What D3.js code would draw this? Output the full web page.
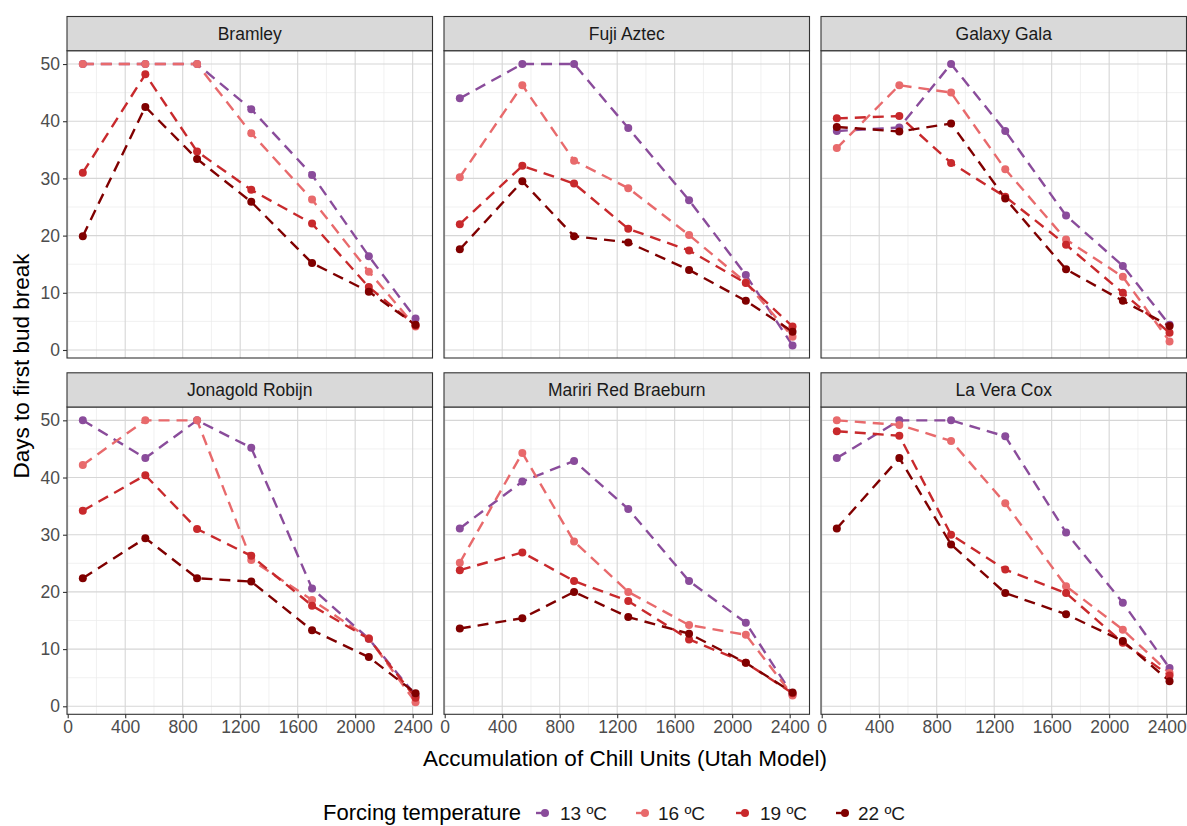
<!DOCTYPE html>
<html><head><meta charset="utf-8">
<script src="https://cdn.jsdelivr.net/npm/d3@7"></script>
<style>body{margin:0;background:#fff;font-family:"Liberation Sans",Arial,sans-serif}</style>
</head><body><svg id="c" width="1187" height="826"></svg>
<script>
const chill = [105, 540, 900, 1277, 1700, 2095, 2420];
const cultivars = ["Bramley","Fuji Aztec","Galaxy Gala","Jonagold Robijn","Mariri Red Braeburn","La Vera Cox"];
const temps = ["13 ºC","16 ºC","19 ºC","22 ºC"];
const colors = ["#8a4c9b","#e86a6c","#c8292c","#800000"];
const xTicks = [0,400,800,1200,1600,2000,2400];
const yTicks = [0,10,20,30,40,50];
// days to first bud break, per cultivar: [13, 16, 19, 22] series
const bramley = [[50,50,50,42.1,30.6,16.4,5.5],[50,50,50,37.9,26.3,13.7,4.1],[31,48.2,34.7,28,22.1,11,4.3],[19.9,42.5,33.4,25.9,15.2,10.2,4.4]];
const fuji = [[44,50,50,38.8,26.2,13.1,0.8],[30.2,46.3,33.1,28.3,20.1,11.8,2.3],[22,32.2,29.1,21.2,17.4,11.7,4.1],[17.6,29.5,19.9,18.8,14,8.6,3.2]];
const gala = [[38.3,38.9,50,38.3,23.5,14.7,4.4],[35.3,46.3,45,31.6,19.3,12.8,1.5],[40.5,40.9,32.7,26.8,18.4,10,3],[39,38.2,39.6,26.5,14.1,8.6,4.2]];
const jonagold = [[50,43.4,50,45.2,20.6,11.8,1.9],[42.2,50,50,25.6,18.6,11.9,0.7],[34.2,40.4,31,26.3,17.6,11.8,1.5],[22.4,29.4,22.4,21.8,13.3,8.6,2.3]];
const mariri = [[31.1,39.3,42.9,34.5,21.9,14.6,2],[25.1,44.3,28.8,20,14.2,12.5,1.9],[23.8,26.9,21.9,18.4,11.7,7.6,2.3],[13.6,15.4,20,15.6,12.7,7.6,2.4]];
const laVera = [[43.4,50,50,47.2,30.4,18.1,6.7],[50,49.2,46.4,35.5,21,13.4,5.8],[48.1,47.3,30,23.9,19.8,11.1,5.4],[31.1,43.4,28.3,19.8,16.1,11.4,4.4]];
const panelData = [bramley, fuji, gala, jonagold, mariri, laVera];

const svg = d3.select("#c");
const colLeft = [67, 444, 821], pw = 365.5;
const rowTop = [16.5, 372.8], stripH = 34.2, ph = 307.3;
const x = d3.scaleLinear().domain([-5, 2538]).range([0, pw]);
const y = d3.scaleLinear().domain([-1.4, 52.33]).range([ph, 0]);
const line = d3.line().x((d,i)=>x(chill[i])).y(d=>y(d));

panelData.forEach((pd, k) => {
  const c = k % 3, r = Math.floor(k / 3);
  const g = svg.append("g").attr("transform", `translate(${colLeft[c]},${rowTop[r]+stripH})`);
  svg.append("rect").attr("x", colLeft[c]).attr("y", rowTop[r]).attr("width", pw).attr("height", stripH)
    .attr("fill", "#d9d9d9").attr("stroke", "#333").attr("stroke-width", 1.1);
  svg.append("text").attr("x", colLeft[c] + pw/2).attr("y", rowTop[r] + stripH/2 + 6)
    .attr("text-anchor", "middle").attr("font-size", 17.5).attr("fill", "#1a1a1a").text(cultivars[k]);
  g.append("rect").attr("width", pw).attr("height", ph).attr("fill", "#fff");
  const xMinor = [200,600,1000,1400,1800,2200];
  const yMinor = [5,15,25,35,45];
  g.selectAll(".xm").data(xMinor).join("line").attr("x1", d=>x(d)).attr("x2", d=>x(d)).attr("y1", 0).attr("y2", ph)
    .attr("stroke", "#ebebeb").attr("stroke-width", 0.7);
  g.selectAll(".ym").data(yMinor).join("line").attr("y1", d=>y(d)).attr("y2", d=>y(d)).attr("x1", 0).attr("x2", pw)
    .attr("stroke", "#ebebeb").attr("stroke-width", 0.7);
  g.selectAll(".xM").data(xTicks).join("line").attr("x1", d=>x(d)).attr("x2", d=>x(d)).attr("y1", 0).attr("y2", ph)
    .attr("stroke", "#d6d6d6").attr("stroke-width", 1.1);
  g.selectAll(".yM").data(yTicks).join("line").attr("y1", d=>y(d)).attr("y2", d=>y(d)).attr("x1", 0).attr("x2", pw)
    .attr("stroke", "#d6d6d6").attr("stroke-width", 1.1);
  pd.forEach((s, j) => {
    g.append("path").attr("d", line(s)).attr("fill", "none").attr("stroke", colors[j])
      .attr("stroke-width", 2.4).attr("stroke-dasharray", "11,7");
  });
  pd.forEach((s, j) => {
    g.selectAll(null).data(s).join("circle").attr("cx", (d,i)=>x(chill[i])).attr("cy", d=>y(d))
      .attr("r", 4).attr("fill", colors[j]);
  });
  g.append("rect").attr("width", pw).attr("height", ph).attr("fill", "none").attr("stroke", "#333").attr("stroke-width", 1.1);
  if (c === 0) {
    const ya = g.append("g").call(d3.axisLeft(y).tickValues(yTicks).tickSize(4).tickPadding(3));
    ya.select(".domain").remove();
    ya.selectAll("line").attr("stroke", "#333").attr("stroke-width", 1.1);
    ya.selectAll("text").attr("font-size", 17.5).attr("fill", "#4d4d4d").attr("font-family", "Liberation Sans, Arial, sans-serif");
  }
  if (r === 1) {
    const xa = g.append("g").attr("transform", `translate(0,${ph})`)
      .call(d3.axisBottom(x).tickValues(xTicks).tickFormat(d3.format("d")).tickSize(4).tickPadding(2));
    xa.select(".domain").remove();
    xa.selectAll("line").attr("stroke", "#333").attr("stroke-width", 1.1);
    xa.selectAll("text").attr("font-size", 17.5).attr("fill", "#4d4d4d").attr("font-family", "Liberation Sans, Arial, sans-serif");
  }
});

svg.append("text").attr("x", 625).attr("y", 766).attr("text-anchor", "middle").attr("font-size", 22.5).attr("fill", "#000")
  .text("Accumulation of Chill Units (Utah Model)");
svg.append("text").attr("transform", "translate(29,366) rotate(-90)").attr("text-anchor", "middle").attr("font-size", 22.5).attr("fill", "#000")
  .text("Days to first bud break");

const lg = svg.append("g");
lg.append("text").attr("x", 323).attr("y", 820).attr("font-size", 22).attr("fill", "#000").text("Forcing temperature");
const keyX = [543, 643, 743, 843], labX = [560, 658, 760, 858];
temps.forEach((t, j) => {
  lg.append("line").attr("x1", keyX[j]-7).attr("x2", keyX[j]+3).attr("y1", 813).attr("y2", 813)
    .attr("stroke", colors[j]).attr("stroke-width", 2.4);
  lg.append("circle").attr("cx", keyX[j]+2).attr("cy", 813).attr("r", 4).attr("fill", colors[j]);
  lg.append("text").attr("x", labX[j]).attr("y", 820).attr("font-size", 19).attr("fill", "#1a1a1a").text(t);
});
</script></body></html>
